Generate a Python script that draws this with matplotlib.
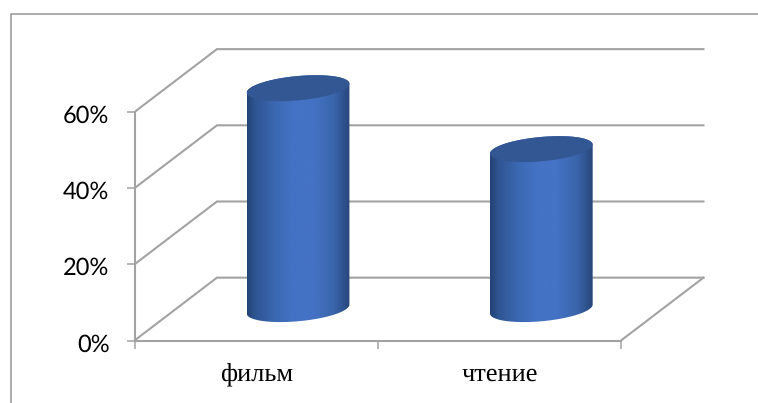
import numpy as np
from matplotlib import pyplot as plt
from matplotlib.colors import LinearSegmentedColormap
from matplotlib.lines import Line2D
from matplotlib.patches import Polygon
from matplotlib.transforms import ScaledTranslation

# data
categories = ['фильм', 'чтение']
values = [0.58, 0.42]
y_ticks = [0.0, 0.2, 0.4, 0.6]
y_labels = ['0%', '20%', '40%', '60%']

# look
WIDTH = 758
HEIGHT = 403
LINE_COLOR = '#a3a3a3'
FRAME_COLOR = '#969696'
TOP_COLOR = '#335793'
SIDE_CMAP = LinearSegmentedColormap.from_list('cylinder', [
    (0.00, '#234273'),
    (0.08, '#2f5592'),
    (0.28, '#3c69b3'),
    (0.45, '#4472c4'),
    (0.65, '#4472c4'),
    (0.85, '#3a65ab'),
    (1.00, '#27467a'),
])

# floor depth of the 3d box, in axis units
DEPTH_X = 0.339
DEPTH_Y = 0.165

# cylinder shape, in axis units
HALF_WIDTH = 0.211
TILT = 0.0118
ROUND = 0.032

plt.rcParams['text.hinting'] = 'no_hinting'


def ellipse(cx, cy, start, stop):
    t = np.linspace(start, stop, 80)
    return cx + HALF_WIDTH * np.cos(t), cy + TILT * np.cos(t) + ROUND * np.sin(t)


def draw_cylinder(ax, position, value):
    cx = position + DEPTH_X / 2 + 0.003
    base = DEPTH_Y / 2
    top = base + value

    # side wall, front edge of the base then back up over the top
    low_x, low_y = ellipse(cx, base, np.pi, 2 * np.pi)
    up_x, up_y = ellipse(cx, top, 0, np.pi)
    side = Polygon(
        np.column_stack([np.r_[low_x, up_x], np.r_[low_y, up_y]]),
        closed=True,
        facecolor='none',
        edgecolor='none',
        transform=ax.transData
    )
    ax.add_patch(side)

    gradient = np.linspace(0, 1, 256).reshape(1, -1)
    img = ax.imshow(
        gradient,
        cmap=SIDE_CMAP,
        aspect='auto',
        extent=(cx - HALF_WIDTH, cx + HALF_WIDTH, base - 0.1, top + 0.1),
        interpolation='bilinear',
        zorder=3
    )
    img.set_clip_path(side)

    cap_x, cap_y = ellipse(cx, top, 0, 2 * np.pi)
    ax.fill(cap_x, cap_y, color=TOP_COLOR, linewidth=0, zorder=4)


fig = plt.figure(figsize=(WIDTH / 100, HEIGHT / 100), dpi=100)
ax = fig.add_axes([134.5 / WIDTH, (HEIGHT - 340.5) / HEIGHT, 585.5 / WIDTH, 300.5 / HEIGHT])
ax.patch.set_alpha(0)

# outer chart border, only the left and top edges fall inside the figure
fig.add_artist(Line2D([10.5 / WIDTH, 10.5 / WIDTH, 1], [0, 1 - 13.5 / HEIGHT, 1 - 13.5 / HEIGHT],
                      color=FRAME_COLOR, linewidth=1.1))

# side wall and back wall gridlines
n_cats = len(categories)
for tick in y_ticks:
    ax.plot([0, DEPTH_X, n_cats + DEPTH_X], [tick, tick + DEPTH_Y, tick + DEPTH_Y],
            color=LINE_COLOR, linewidth=1.5, zorder=1, solid_joinstyle='miter')

# right edge of the floor
ax.plot([n_cats, n_cats + DEPTH_X], [0, DEPTH_Y], color=LINE_COLOR, linewidth=1.5, zorder=1)

for i, value in enumerate(values):
    draw_cylinder(ax, i + 0.5, value)

ax.set_xlim(0, 2.407)
ax.set_ylim(0, 0.789)

for side_name in ('top', 'right'):
    ax.spines[side_name].set_visible(False)
ax.spines['left'].set_bounds(0, y_ticks[-1])
ax.spines['bottom'].set_bounds(0, n_cats)
for side_name in ('left', 'bottom'):
    ax.spines[side_name].set_color(LINE_COLOR)
    ax.spines[side_name].set_linewidth(1.5)

ax.set_yticks(y_ticks, y_labels, fontfamily='Lato', fontsize=17, color='black')
ax.tick_params(axis='y', length=6, width=1.1, color=LINE_COLOR, pad=12)

# nudge the value labels down a little against their ticks
nudge = ScaledTranslation(0, -1.5 / 72, fig.dpi_scale_trans)
for label in ax.get_yticklabels():
    label.set_transform(label.get_transform() + nudge)

ax.set_xticks(range(n_cats + 1), [''] * (n_cats + 1))
ax.tick_params(axis='x', which='major', length=6, width=1.1, color=LINE_COLOR)
ax.set_xticks([i + 0.5 for i in range(n_cats)], categories, minor=True,
              fontfamily='Liberation Serif', fontsize=19, color='black')
ax.tick_params(axis='x', which='minor', length=0, pad=16)

fig.savefig('out.png', dpi=100, facecolor='white')
